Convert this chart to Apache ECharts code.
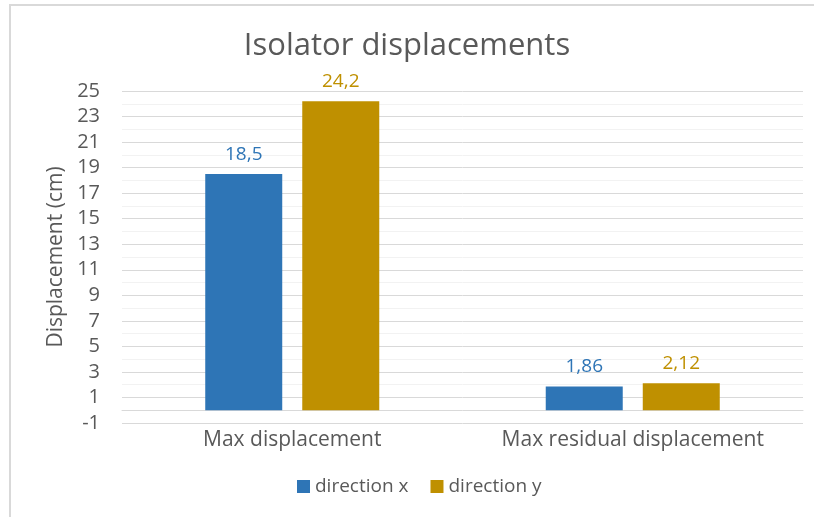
<!DOCTYPE html>
<html>
<head>
<meta charset="utf-8">
<script src="https://cdn.jsdelivr.net/npm/echarts@6/dist/echarts.min.js"></script>
<style>
  html, body { margin: 0; padding: 0; background: #fff; }
  #chart { width: 814px; height: 517px; }
</style>
</head>
<body>
<div id="chart"></div>
<script>
const categories = ['Max displacement', 'Max residual displacement']
const seriesNames = ['direction x', 'direction y']
const directionX = [18.5, 1.86]
const directionY = [24.2, 2.12]
const colors = ['#2E75B6', '#BF9000']

const FONT = 'Open Sans'
const GREY = '#595959'

// Excel style decimal comma
function fmt(v) {
  return String(v).replace('.', ',')
}

const chart = echarts.init(document.getElementById('chart'))

function barSeries(name, data, color) {
  return {
    name,
    type: 'bar',
    data,
    barWidth: 77,
    barGap: '26%',
    itemStyle: { color },
    label: {
      show: true,
      position: 'top',
      distance: 10,
      color,
      fontFamily: FONT,
      fontSize: 19,
      formatter: p => fmt(p.value),
    },
  }
}

chart.setOption({
  animation: false,
  textStyle: { fontFamily: FONT },
  title: {
    text: 'Isolator displacements',
    left: 'center',
    top: 26,
    textStyle: { fontFamily: FONT, fontSize: 31, fontWeight: 'normal', color: GREY },
  },
  legend: {
    data: seriesNames,
    bottom: 16,
    left: 292,
    icon: 'rect',
    itemWidth: 13,
    itemHeight: 13,
    itemGap: 22,
    textStyle: { fontFamily: FONT, fontSize: 19, color: GREY },
  },
  grid: { left: 122, right: 11, top: 91, bottom: 94 },
  xAxis: {
    type: 'category',
    data: categories,
    axisLine: { show: true, lineStyle: { color: '#d9d9d9' } },
    axisTick: { show: false },
    axisLabel: { color: GREY, fontSize: 21, fontFamily: FONT, margin: 7, interval: 0 },
  },
  yAxis: {
    type: 'value',
    min: -1,
    max: 25,
    interval: 2,
    name: 'Displacement (cm)',
    nameLocation: 'middle',
    nameGap: 55,
    nameTextStyle: { color: GREY, fontSize: 21, fontFamily: FONT },
    axisLine: { show: false },
    axisTick: { show: false },
    axisLabel: { color: GREY, fontSize: 20, fontFamily: FONT, margin: 22 },
    splitLine: { lineStyle: { color: '#d9d9d9' } },
    minorTick: { show: false, splitNumber: 2 },
    minorSplitLine: { show: true, lineStyle: { color: '#f2f2f2' } },
  },
  graphic: [
    {
      type: 'polyline',
      shape: { points: [[10, 520], [10, 5], [820, 5]] },
      style: { stroke: '#d9d9d9', lineWidth: 2, fill: null },
      silent: true,
    },
  ],
  series: [
    barSeries(seriesNames[0], directionX, colors[0]),
    barSeries(seriesNames[1], directionY, colors[1]),
  ],
})
</script>
</body>
</html>
